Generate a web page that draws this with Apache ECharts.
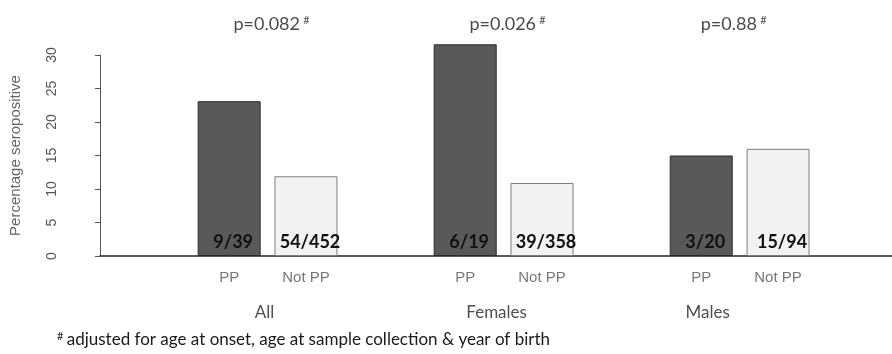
<!DOCTYPE html>
<html><head><meta charset="utf-8">
<script src="https://cdn.jsdelivr.net/npm/echarts@6/dist/echarts.min.js"></script>
<style>html,body{margin:0;padding:0;background:#fff}#c{width:892px;height:354px}</style>
</head><body><div id="c"></div>
<script>
// ---- data ----
const groups = ['All', 'Females', 'Males'];
const barNames = ['PP', 'Not PP'];
const ppValues = [23.1, 31.6, 15.0];
const notPpValues = [11.9, 10.9, 16.0];
const ppCounts = ['9/39', '6/19', '3/20'];
const notPpCounts = ['54/452', '39/358', '15/94'];
const pValues = ['p=0.082', 'p=0.026', 'p=0.88'];
const yTicks = [0, 5, 10, 15, 20, 25, 30];
const footnote = 'adjusted for age at onset, age at sample collection & year of birth';

// ---- layout (x in bar-slot units) ----
const X_MAX = 12.6, G0 = 2.055, G_STEP = 3.755, B_STEP = 1.222;
const xPos = (g, b) => G0 + g * G_STEP + b * B_STEP;
const groupCenter = g => xPos(g, 0) + B_STEP / 2;
const groupLabelShift = [-3, -7, -32];
const pLabelShift = [4, 4, -6];

const calibri = 'Lato, "Open Sans", sans-serif';
const arial = '"Liberation Sans", Arial, sans-serif';

const chart = echarts.init(document.getElementById('c'), null, {renderer: 'canvas'});

function barSeries(name, values, counts, b, color, border) {
  return {
    name: name, type: 'bar', barWidth: 63, barGap: '-100%', clip: false,
    data: values.map((v, i) => [xPos(i, b), v]),
    itemStyle: {color: color, borderColor: border, borderWidth: 1},
    label: {
      show: true, position: 'insideBottom', distance: 5, offset: [4, 0],
      formatter: p => counts[p.dataIndex],
      fontFamily: calibri, fontWeight: 'bold', fontSize: 18, color: '#111'
    },
    silent: true
  };
}

const catLabelData = [];
groups.forEach((g, i) => barNames.forEach((n, b) => catLabelData.push({value: [xPos(i, b), 0], name: n})));

chart.setOption({
  animation: false,
  grid: {left: 98, right: 0, top: 55, bottom: 98},
  xAxis: {
    type: 'value', min: 0, max: X_MAX,
    axisLine: {show: true, lineStyle: {color: '#222', width: 1.5}},
    axisTick: {show: false}, axisLabel: {show: false}, splitLine: {show: false}
  },
  yAxis: {
    type: 'value', min: yTicks[0], max: yTicks[yTicks.length - 1], interval: yTicks[1] - yTicks[0],
    offset: 31,
    axisLine: {show: true, lineStyle: {color: '#555', width: 1}},
    axisTick: {show: true, length: 5, lineStyle: {color: '#555'}},
    axisLabel: {rotate: 90, fontSize: 14, color: '#555', fontFamily: arial, margin: 10},
    splitLine: {show: false},
    name: 'Percentage seropositive', nameLocation: 'middle', nameGap: 46,
    nameTextStyle: {fontSize: 15, color: '#666', fontFamily: arial}
  },
  series: [
    barSeries('PP', ppValues, ppCounts, 0, '#595959', '#2b2b2b'),
    barSeries('Not PP', notPpValues, notPpCounts, 1, '#f2f2f2', '#7f7f7f'),
    {
      type: 'scatter', symbolSize: 1, itemStyle: {color: 'transparent'}, clip: false, silent: true,
      data: catLabelData,
      label: {show: true, position: 'bottom', distance: 14, formatter: p => p.name,
        fontFamily: arial, fontSize: 15, color: '#555'}
    },
    {
      type: 'scatter', symbolSize: 1, itemStyle: {color: 'transparent'}, clip: false, silent: true,
      data: groups.map((g, i) => ({value: [groupCenter(i), 0], name: g,
        label: {offset: [groupLabelShift[i], 0]}})),
      label: {show: true, position: 'bottom', distance: 48, formatter: p => p.name,
        fontFamily: calibri, fontSize: 17, color: '#222'}
    },
    {
      type: 'scatter', symbolSize: 1, itemStyle: {color: 'transparent'}, clip: false, silent: true,
      data: groups.map((g, i) => ({value: [groupCenter(i), 0], name: pValues[i],
        label: {offset: [pLabelShift[i], 0]}})),
      label: {show: true, position: 'top', distance: 222,
        formatter: p => '{p|' + p.name + '} {s|#}',
        rich: {
          p: {fontFamily: calibri, fontSize: 18, color: '#1a1a1a'},
          s: {fontFamily: calibri, fontSize: 11, color: '#1a1a1a', padding: [0, 0, 8, 0]}
        }}
    }
  ],
  graphic: [{
    type: 'text', left: 57, top: 331,
    style: {
      text: '{s|#} {t|' + footnote + '}',
      rich: {
        s: {fontFamily: calibri, fontSize: 11, fill: '#1a1a1a', padding: [0, 0, 7, 0]},
        t: {fontFamily: calibri, fontSize: 17, fill: '#1a1a1a'}
      }
    }
  }]
});
</script></body></html>
